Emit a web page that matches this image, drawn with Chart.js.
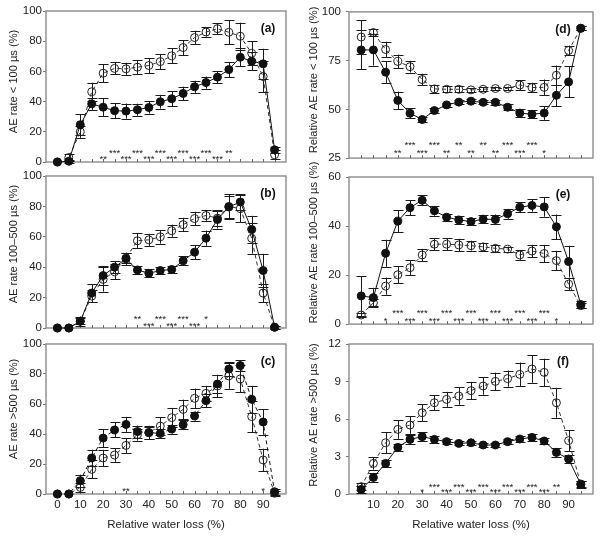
<!DOCTYPE html>
<html><head><meta charset="utf-8">
<script src="https://cdn.jsdelivr.net/npm/chart.js@4.4.1/dist/chart.umd.min.js"></script>
<style>
html,body{margin:0;padding:0;background:#fff;}
#wrap{position:relative;width:600px;height:536px;overflow:hidden;background:#fff;}
#wrap canvas{position:absolute;}
</style></head><body><div id="wrap"></div>
<script>
// ---------- DATA ----------
const xLeft  = [0,5,10,15,20,25,30,35,40,45,50,55,60,65,70,75,80,85,90,95];
const xRight = [5,10,15,20,25,30,35,40,45,50,55,60,65,70,75,80,85,90,95];

const aFilled    = [0,0.5,24.7,38.5,36.3,34,33.7,34.6,36.1,39.9,41.9,45.4,49.8,52.6,56.2,61.2,69.4,66.7,65,8.1];
const aFilledErr = [0,1,7,4,6,5,5,4,4,4.5,5,4.5,4,4,4,5,6,6,10,2];
const aOpen      = [0,3,20,46.5,58.8,62,61.7,62.8,63.9,66.5,70.3,75.8,82.4,86.1,88.3,85.9,83.3,72,56.6,4.8];
const aOpenErr   = [0,2.5,4,6,6,4,4,4.5,5,5,5,5,4.5,3,3.5,8,9,8,10.5,3];
const aSig       = ['','','','','**','***','***','***','***','***','***','***','***','***','***','**','','','',''];

const bFilled    = [0,0,4.4,23,34.5,40,45.5,38.2,36,37.8,38.5,44.2,49.9,59.1,71.4,79.6,82.9,64.8,37.8,0.5];
const bFilledErr = [0,0,2,6,6,4,4,2.5,2.5,2.5,2,3,4.5,5,6,7,5,9,11,1];
const bOpen      = [0,0,4.5,21,32,37,46,57.4,58,60,64,68,72,74,72.3,80,78.5,59,23,0.5];
const bOpenErr   = [0,0,3,4,8,5,3.5,5,4,4.5,4,4.5,4.5,3.5,5,8,9,10,6,1];
const bSig       = ['','','','','','','','**','***','***','***','***','***','*','','','','','',''];

const cFilled    = [0,0,8.9,24,37.3,42.7,46.4,41.6,40.9,40.4,43.3,46.2,52,62.2,73.3,83.3,85.6,63.1,48,1.5];
const cFilledErr = [0,0,4,5.5,6,5,5,4,4,3,3,3,3,4.5,6,4.5,3.5,9,8.5,2];
const cOpen      = [0,0,4.4,16.4,24,26,32.4,39.6,41,45.3,50.9,56.4,63.8,67.1,72,78.7,76.7,51.6,22.7,0.5];
const cOpenErr   = [0,0,3,6,5.5,4.5,5,4,4.5,6,6.5,6.5,6.5,5,7.5,8.5,9,10.5,7.5,1.5];
const cSig       = ['','','','','','','**','','','','','','','','','','','','*',''];

const dFilled    = [80.5,80.5,69.1,54.6,48,44.8,49.4,52.3,53.7,54.2,53.6,53.6,51.1,48.1,47.5,48.1,57.2,64.1,91.6];
const dFilledErr = [10,8,5.5,4.5,2.5,1.5,1.2,1,1,1,1,1.2,1.5,2,2,3.5,5.5,8,1];
const dOpen      = [87.1,89.4,80.7,74.6,71.9,65.3,60.5,60.3,60.3,60,60.3,60.7,60.7,62.5,61.2,61.3,67.5,80.2,91.6];
const dOpenErr   = [8.5,2,4,3.5,3,3,2,1.5,1.5,1,1,1,1,2.5,2.5,4,5,2.5,1];
const dSig       = ['','','','**','***','***','***','**','**','**','**','**','***','***','***','*','','',''];

const eFilled    = [11.5,10.8,28.9,42,47.5,50.5,46.2,43.6,42.5,41.8,42.8,42.7,45,47.7,48.4,47.8,39.7,25.5,8];
const eFilledErr = [8,4,5.5,4.5,3,2,2,1.5,1.5,1.5,1.5,2,2,2,2.5,4,5,6.5,1.5];
const eOpen      = [3.7,8.7,15.5,20.1,23,28.2,32.6,32.6,32.3,32,31.5,30.9,30.6,28.2,29.8,28.8,25.9,16.3,7.5];
const eOpenErr   = [1,1.5,3.5,3.5,3,2.5,2.5,2.5,2.5,2,1.5,1.5,1,2,2.5,3.5,4,2.5,1];
const eSig       = ['','','*','***','***','***','***','***','***','***','***','***','***','***','***','***','*','',''];

const fFilled    = [0.37,1.33,2.45,3.73,4.37,4.59,4.37,4.19,4.05,4.1,3.92,3.92,4.19,4.4,4.53,4.24,3.33,2.8,0.77];
const fFilledErr = [0.3,0.35,0.3,0.3,0.35,0.35,0.25,0.2,0.15,0.15,0.15,0.15,0.2,0.25,0.25,0.2,0.35,0.3,0.25];
const fOpen      = [0.59,2.45,4.1,5.17,5.52,6.5,7.3,7.57,7.84,8.27,8.64,9.01,9.23,9.57,10,9.73,7.3,4.27,0.8];
const fOpenErr   = [0.3,0.5,0.85,0.75,0.7,0.7,0.6,0.6,0.7,0.7,0.7,0.7,0.65,0.95,1.1,1.1,1.2,0.85,0.25];
const fSig       = ['','','','','','*','***','***','***','***','***','***','***','***','***','***','**','',''];

const xTitle = 'Relative water loss (%)';

// ---------- LAYOUT / STYLE ----------
Chart.defaults.font.family = "'Liberation Sans', Arial, sans-serif";
Chart.defaults.color = '#222';
const FS = 11.5;
const TFS = 11.1;
const cols = [
  {left:0,   yw:46, padR:14, xmin:-5, lblMin:0,  titleX:13.5, labelDx:18, tickPad:1},
  {left:300, yw:49, padR:7,  xmin:0,  lblMin:10, titleX:14,   labelDx:30, tickPad:5}
];
const rows = [
  {top:0,   h:170, padT:11, xh:8},
  {top:160, h:176, padT:16, xh:8},
  {top:330, h:206, padT:14, xh:42}
];

const panels = [
  {col:0,row:0,x:xLeft,f:aFilled,fe:aFilledErr,o:aOpen,oe:aOpenErr,sig:aSig,ymin:0,ymax:100,step:20,
   yt:'AE rate < 100 µs (%)',lab:'(a)',rev:false,sLo:5.5,sHi:11.5,tOff:-5},
  {col:0,row:1,x:xLeft,f:bFilled,fe:bFilledErr,o:bOpen,oe:bOpenErr,sig:bSig,ymin:0,ymax:100,step:20,
   yt:'AE rate 100–500 µs (%)',lab:'(b)',rev:false,sLo:4.5,sHi:11,tOff:-8},
  {col:0,row:2,x:xLeft,f:cFilled,fe:cFilledErr,o:cOpen,oe:cOpenErr,sig:cSig,ymin:0,ymax:100,step:20,
   yt:'AE rate >500 µs (%)',lab:'(c)',rev:false,sLo:5,sHi:11,tOff:-10,fDash:[4,3]},
  {col:1,row:0,x:xRight,f:dFilled,fe:dFilledErr,o:dOpen,oe:dOpenErr,sig:dSig,ymin:25,ymax:100,step:25,
   yt:'Relative AE rate < 100 µs (%)',lab:'(d)',rev:false,sLo:7.3,sHi:15.5,tOff:-5},
  {col:1,row:1,x:xRight,f:eFilled,fe:eFilledErr,o:eOpen,oe:eOpenErr,sig:eSig,ymin:0,ymax:60,step:20,
   yt:'Relative AE rate 100–500 µs (%)',lab:'(e)',rev:true,sLo:5.7,sHi:14,tOff:-8,padT:17,xh:7},
  {col:1,row:2,x:xRight,f:fFilled,fe:fFilledErr,o:fOpen,oe:fOpenErr,sig:fSig,ymin:0,ymax:12,step:3,
   yt:'Relative AE rate >500 µs (%)',lab:'(f)',rev:false,sLo:4,sHi:9,tOff:-4}
];

const decor = {
  id:'decor',
  beforeDatasetsDraw(chart){
    const p = chart.options.plugins.decor.panel;
    const {ctx, chartArea:a, scales:{x:xs, y:ys}} = chart;
    ctx.save();
    // frame
    ctx.strokeStyle = '#8c8c8c'; ctx.lineWidth = 1.4;
    ctx.strokeRect(a.left, a.top, a.right - a.left, a.bottom - a.top);
    // inward x ticks
    ctx.strokeStyle = '#666'; ctx.lineWidth = 1;
    xs.ticks.forEach(t => {
      const px = Math.round(xs.getPixelForValue(t.value)) + 0.5;
      if (px <= a.left + 1 || px >= a.right - 1) return;
      ctx.beginPath(); ctx.moveTo(px, a.bottom); ctx.lineTo(px, a.bottom - 3); ctx.stroke();
    });
    // error bars
    ctx.strokeStyle = '#1a1a1a'; ctx.lineWidth = 1;
    chart.data.datasets.forEach((ds, di) => {
      const meta = chart.getDatasetMeta(di);
      meta.data.forEach((el, j) => {
        const e = ds.errorBars[j]; if (!e) return;
        const v = ds.data[j].y;
        const y1 = ys.getPixelForValue(v + e), y2 = ys.getPixelForValue(v - e);
        const x = Math.round(el.x) + 0.5;
        ctx.beginPath();
        ctx.moveTo(x, y1); ctx.lineTo(x, y2);
        ctx.moveTo(x - 5, Math.round(y1) + 0.5); ctx.lineTo(x + 5, Math.round(y1) + 0.5);
        ctx.moveTo(x - 5, Math.round(y2) + 0.5); ctx.lineTo(x + 5, Math.round(y2) + 0.5);
        ctx.stroke();
      });
    });
    // significance asterisks
    ctx.fillStyle = '#222'; ctx.font = "9.5px 'Liberation Sans', Arial, sans-serif";
    ctx.textAlign = 'center'; ctx.textBaseline = 'alphabetic';
    p.sig.forEach((s, i) => {
      if (!s) return;
      const xv = p.x[i];
      let upper = (xv % 10 !== 0);
      if (p.rev) upper = !upper;
      const yc = a.bottom - (upper ? p.sHi : p.sLo);
      ctx.fillText(s, xs.getPixelForValue(xv), yc + 5.4);
    });
    ctx.restore();
  },
  afterDraw(chart){
    const p = chart.options.plugins.decor.panel;
    const col = cols[p.col];
    const {ctx, chartArea:a} = chart;
    ctx.save();
    // y title
    ctx.fillStyle = '#222';
    ctx.font = TFS + "px 'Liberation Sans', Arial, sans-serif";
    ctx.translate(col.titleX, (a.top + a.bottom) / 2 + p.tOff);
    ctx.rotate(-Math.PI / 2);
    ctx.textAlign = 'center'; ctx.textBaseline = 'middle';
    ctx.fillText(p.yt, 0, 0);
    ctx.restore();
    // panel label
    ctx.save();
    ctx.fillStyle = '#111';
    ctx.font = "bold 12px 'Liberation Sans', Arial, sans-serif";
    ctx.textAlign = 'center'; ctx.textBaseline = 'middle';
    ctx.fillText(p.lab, a.right - col.labelDx, a.top + 18);
    ctx.restore();
  }
};

const wrap = document.getElementById('wrap');
panels.forEach(p => {
  const col = cols[p.col], row = rows[p.row];
  const cv = document.createElement('canvas');
  cv.width = 300; cv.height = row.h;
  cv.style.left = col.left + 'px'; cv.style.top = row.top + 'px';
  cv.style.width = '300px'; cv.style.height = row.h + 'px';
  wrap.appendChild(cv);
  const padT = p.padT !== undefined ? p.padT : row.padT;
  const xh = p.xh !== undefined ? p.xh : row.xh;
  const bottomRow = p.row === 2;
  new Chart(cv, {
    type: 'line',
    data: { datasets: [
      { label:'filled', data: p.x.map((x, i) => ({x, y: p.f[i]})), errorBars: p.fe,
        borderColor:'#111', borderWidth:1, borderDash: p.fDash || [], tension:0, fill:false,
        pointRadius:4, pointBackgroundColor:'#111', pointBorderColor:'#111', pointBorderWidth:1, clip:false },
      { label:'open', data: p.x.map((x, i) => ({x, y: p.o[i]})), errorBars: p.oe,
        borderColor:'#333', borderWidth:1, borderDash:[4,3], tension:0, fill:false,
        pointRadius:4, pointBackgroundColor:'rgba(255,255,255,0)', pointBorderColor:'#222', pointBorderWidth:1, clip:false }
    ]},
    options: {
      responsive:false, animation:false, devicePixelRatio:1,
      layout:{ padding:{ top:padT, right:col.padR, left:0, bottom:0 } },
      plugins:{ legend:{display:false}, tooltip:{enabled:false}, decor:{ panel:p } },
      scales:{
        x:{ type:'linear', min:col.xmin, max:100,
            afterFit: s => { s.height = xh; },
            grid:{ display:false, drawTicks:false }, border:{display:false},
            ticks:{ stepSize:5, autoSkip:false, maxRotation:0, padding:4,
                    font:{size:FS}, color:'#222',
                    callback: v => (bottomRow && v % 10 === 0 && v >= col.lblMin && v <= 90) ? String(v) : '' },
            title:{ display:bottomRow, text:xTitle, font:{size:FS}, color:'#222', padding:{top:4,bottom:4} } },
        y:{ min:p.ymin, max:p.ymax,
            afterFit: s => { s.width = col.yw; },
            grid:{ display:true, drawOnChartArea:false, drawTicks:true, tickLength:3, color:'#777' },
            border:{display:false},
            ticks:{ stepSize:p.step, padding:col.tickPad, font:{size:FS}, color:'#222' } }
      }
    },
    plugins:[decor]
  });
});
</script>
</body></html>
